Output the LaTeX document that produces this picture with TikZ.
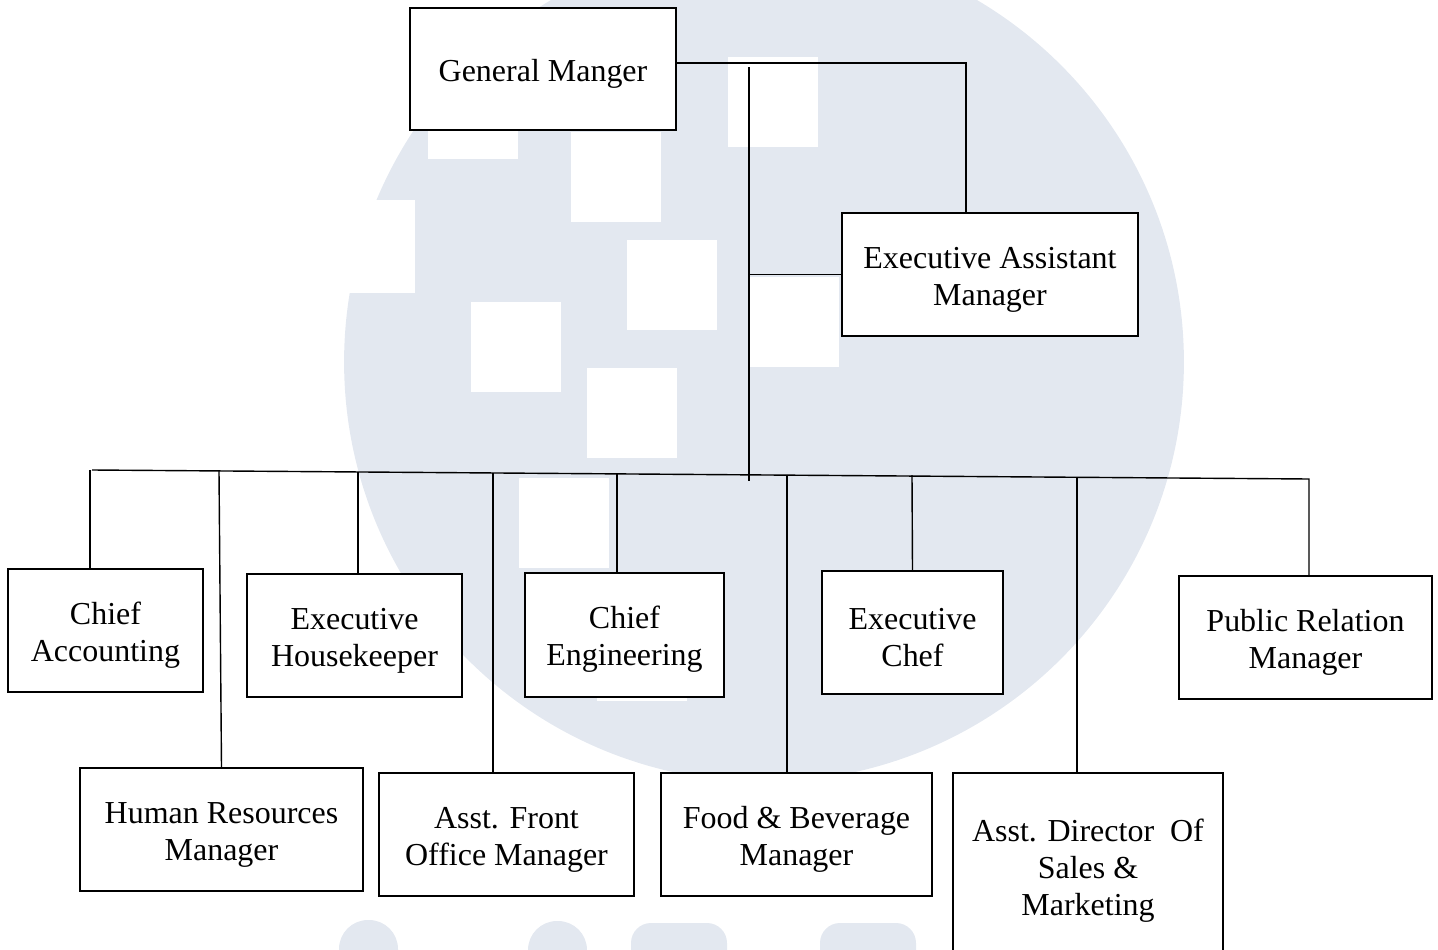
\documentclass[tikz,border=0pt]{standalone}
\usepackage{fontspec}
\setmainfont{Liberation Serif}
\definecolor{wmark}{RGB}{227,232,240}
\newcommand{\lift}{\rule{0pt}{18pt}}
\tikzstyle{staff}=[draw,fill=white,line width=1.4pt,align=center,inner sep=0pt,font=\fontsize{18.2}{21}\selectfont]
\tikzstyle{wire} = [draw,line width=0.8pt]

\begin{document}
\begin{tikzpicture}[x=0.02cm, y=-0.02cm]
		\useasboundingbox (0,0) rectangle (1438,950);
		\clip (0,0) rectangle (1438,950);

		% watermark
		\fill [wmark] (764,362) circle [radius=8.4cm];
		\fill [white] (300,200) rectangle (415,293);
		\foreach \x/\y in {428/69, 571/132, 728/57, 627/240, 471/302, 587/368, 749/277, 519/478, 597/611}
			\fill [white] (\x,\y) rectangle ++(90,90);
		\fill [wmark, rounded corners=0.58cm] (339,990) -- (339,920) -- (398,920) -- (398,990);
		\fill [wmark, rounded corners=0.58cm] (528,990) -- (528,921) -- (587,921) -- (587,990);
		\fill [wmark, rounded corners=0.4cm]  (631,990) -- (631,923) -- (727,923) -- (727,990);
		\fill [wmark, rounded corners=0.4cm]  (820,990) -- (820,923) -- (916,923) -- (916,990);

		\node [staff, minimum width=5.32cm, minimum height=2.44cm] (gm)  at (543,69)      {\lift General Manger};
		\node [staff, minimum width=5.92cm, minimum height=2.46cm] (eam) at (990,274.5)   {\lift Executive Assistant\\Manager};
		\node [staff, minimum width=3.9cm,  minimum height=2.46cm] (ca)  at (105.5,630.5) {\lift Chief\\Accounting};
		\node [staff, minimum width=5.66cm, minimum height=2.46cm] (hr)  at (221.5,829.5) {\lift Human Resources\\Manager};
		\node [staff, minimum width=4.3cm,  minimum height=2.46cm] (eh)  at (354.5,635.5) {\lift Executive\\Housekeeper};
		\node [staff, minimum width=5.1cm,  minimum height=2.46cm] (afo) at (506.5,834.5) {\lift Asst. Front\\Office Manager};
		\node [staff, minimum width=3.98cm, minimum height=2.48cm] (ce)  at (624.5,635)   {\lift Chief\\Engineering};
		\node [staff, minimum width=5.42cm, minimum height=2.46cm] (fb)  at (796.5,834.5) {\lift Food \& Beverage\\Manager};
		\node [staff, minimum width=3.62cm, minimum height=2.46cm] (ec)  at (912.5,632.5) {\lift Executive\\Chef};
		\node [staff, minimum width=5.4cm,  minimum height=3.72cm] (ads) at (1088,866)    {\lift Asst. Director\ \ Of\\Sales \&\\Marketing};
		\node [staff, minimum width=5.06cm, minimum height=2.46cm] (pr)  at (1305.5,637.5) {\lift Public Relation\\Manager};

		\coordinate (elbow)    at (966,63);
		\coordinate (trunk)    at (749,67);
		\coordinate (trunkend) at (749,481);
		\coordinate (busl)     at (92,470);
		\coordinate (busr)     at (1309,479);
		\coordinate (dca)      at (90,470);
		\coordinate (dhr)      at (219,471);
		\coordinate (deh)      at (358,472);
		\coordinate (dafo)     at (493,473);
		\coordinate (dce)      at (617,474);
		\coordinate (dfb)      at (787,475);
		\coordinate (dec)      at (912,475);
		\coordinate (dads)     at (1077,477);

		\draw [wire] (gm.east |- elbow) -- (elbow) -- (elbow |- eam.north);
		\draw [wire] (trunk) -- (trunkend);
		\draw [wire] (trunk |- eam.west) -- (eam.west);
		\draw [wire] (busl) -- (busr) -- (busr |- pr.north);
		\draw [wire] (dca)  -- (dca |- ca.north);
		\draw [wire] (dhr)  -- (hr.north);
		\draw [wire] (deh)  -- (deh |- eh.north);
		\draw [wire] (dafo) -- (dafo |- afo.north);
		\draw [wire] (dce)  -- (dce |- ce.north);
		\draw [wire] (dfb)  -- (dfb |- fb.north);
		\draw [wire] (dec)  -- (ec.north);
		\draw [wire] (dads) -- (dads |- ads.north);
	\end{tikzpicture}
\end{document}
